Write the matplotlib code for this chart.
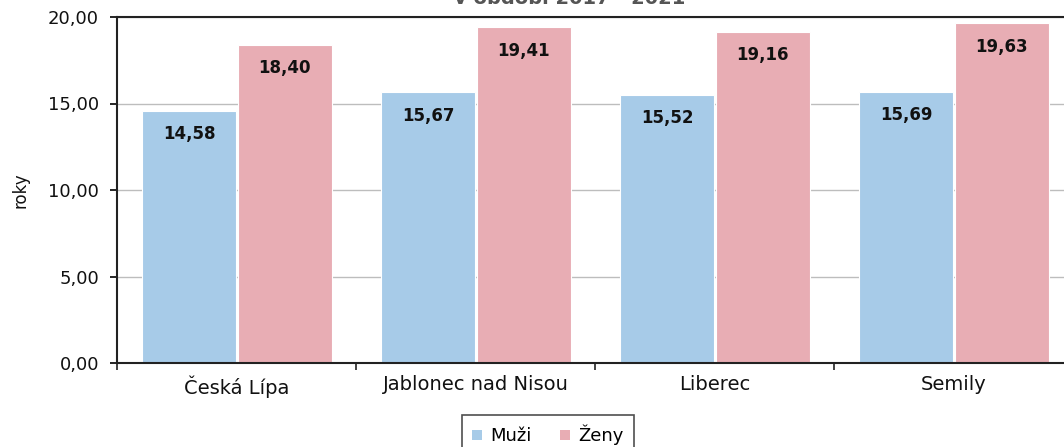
import matplotlib
matplotlib.use("Agg")
from matplotlib import pyplot as plt
import numpy as np

plt.rcParams['font.family'] = ['DejaVu Sans']

okresy = ['Česká Lípa', 'Jablonec nad Nisou', 'Liberec', 'Semily']
muzi = [14.58, 15.67, 15.52, 15.69]
zeny = [18.40, 19.41, 19.16, 19.63]
serie = ['Muži', 'Ženy']
barvy = ['#a7cbe8', '#e8adb4']

fig = plt.figure(figsize=(10.64, 4.47), dpi=100)
ax = fig.add_axes([117/1064, 1 - 363/447, 956/1064, 346/447])

x = np.arange(len(okresy))
w = 0.395
b1 = ax.bar(x - 0.198, muzi, w, color=barvy[0], edgecolor='white', linewidth=0.8, label=serie[0], zorder=2)
b2 = ax.bar(x + 0.202, zeny, w, color=barvy[1], edgecolor='white', linewidth=0.8, label=serie[1], zorder=2)

def fmt(v):
    return f'{v:.2f}'.replace('.', ',')

for bars, vals in ((b1, muzi), (b2, zeny)):
    for r, v in zip(bars, vals):
        ax.annotate(fmt(v), (r.get_x() + r.get_width() / 2, v), xytext=(0, -17),
                    textcoords='offset points', ha='center', va='center',
                    fontsize=12, fontweight='bold', color='#111111', zorder=3)

ax.set_xlim(-0.5, 3.5)
ax.set_ylim(0, 20)
ax.set_yticks([0, 5, 10, 15, 20])
ax.set_yticklabels([fmt(v) for v in [0, 5, 10, 15, 20]])
ax.set_xticks(x)
ax.set_xticklabels(okresy)
ax.set_xticks(np.arange(-0.5, 4, 1), minor=True)
ax.tick_params(axis='x', which='major', length=0, pad=9, labelsize=14, labelcolor='#111111')
ax.tick_params(axis='x', which='minor', length=5, width=1.2, direction='out', color='#222222')
ax.tick_params(axis='y', length=5, width=1.2, direction='out', labelsize=13, labelcolor='#111111', pad=8)

ax.yaxis.grid(True, color='#bdbdbd', linewidth=1, zorder=0)
ax.set_axisbelow(True)
for s in ('left', 'bottom', 'top'):
    ax.spines[s].set_color('#222222')
    ax.spines[s].set_linewidth(1.5)
ax.spines['right'].set_visible(False)

ax.set_ylabel('roky', fontsize=12, color='#111111', labelpad=13)

fig.text(0.535, 1 - 4/447, 'v období 2017 - 2021', ha='center', va='baseline',
         fontsize=14, fontweight='bold', color='#555555')

leg = fig.legend(loc='upper center', bbox_to_anchor=(548/1064, 1 - 415/447), ncol=2,
                 frameon=True, fancybox=False, edgecolor='#222222', fontsize=13,
                 handlelength=0.55, handleheight=0.55, handletextpad=0.45,
                 columnspacing=1.6, borderpad=0.55, borderaxespad=0)
leg.get_frame().set_linewidth(1.2)
for h in leg.legend_handles:
    h.set_edgecolor('none')

fig.savefig('out.png', dpi=100)
